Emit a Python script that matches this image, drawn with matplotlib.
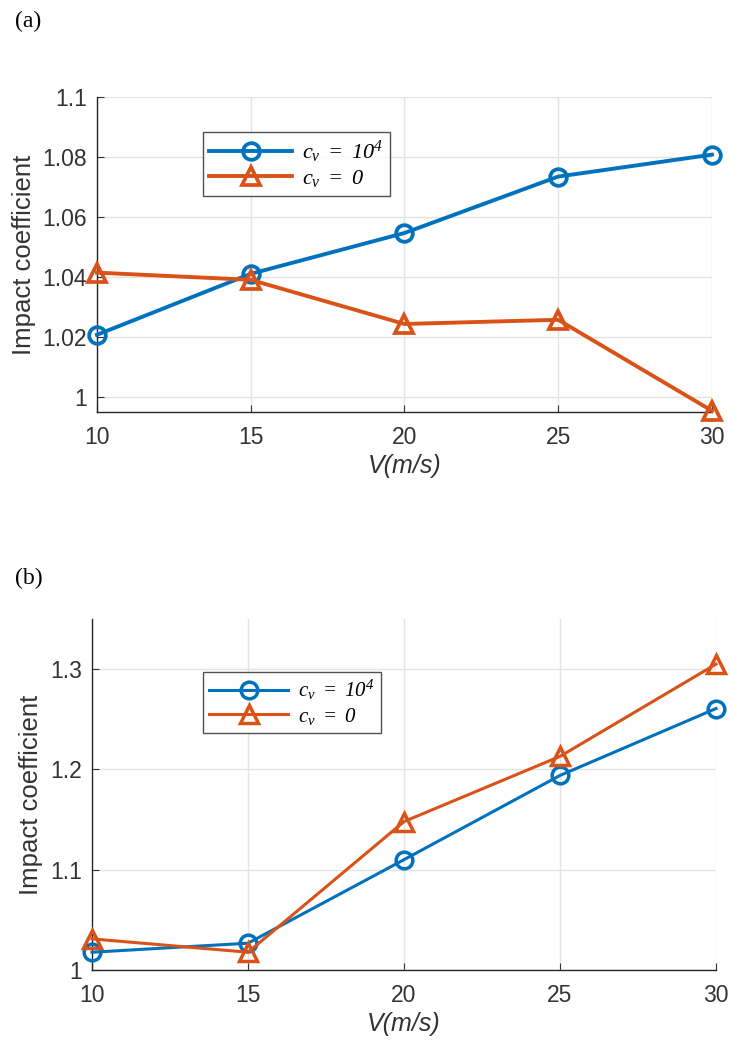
import matplotlib
matplotlib.use('Agg')
import matplotlib.pyplot as plt

plt.rcParams['mathtext.fontset'] = 'custom'
plt.rcParams['mathtext.it'] = 'Liberation Serif:italic'
plt.rcParams['mathtext.rm'] = 'Liberation Serif:italic'
plt.rcParams['font.family'] = ['Liberation Sans', 'DejaVu Sans']

# data
speed = [10, 15, 20, 25, 30]
a_cv4 = [1.0208, 1.0411, 1.0547, 1.0735, 1.0808]
a_cv0 = [1.0415, 1.0391, 1.0244, 1.0258, 0.9955]
b_cv4 = [1.0177, 1.0267, 1.110, 1.194, 1.2607]
b_cv0 = [1.031, 1.0177, 1.148, 1.213, 1.305]

blue = '#0072BD'
orange = '#D95319'
axcol = '#262626'

lab_hi = r'$c_v\ =\ 10^{4}$'
lab_lo = r'$c_v\ =\ 0$'

fig = plt.figure(figsize=(7.29, 10.44), dpi=100)


def style_axes(ax):
    ax.spines['top'].set_visible(False)
    ax.spines['right'].set_visible(False)
    for s in ['left', 'bottom']:
        ax.spines[s].set_color(axcol)
        ax.spines[s].set_linewidth(1.0)
    ax.tick_params(direction='in', length=5, colors='#333333', labelsize=16.5, pad=7)
    ax.tick_params(axis='x', pad=10)
    ax.grid(True, color='#e3e3e3', linewidth=1.0)
    ax.set_axisbelow(True)
    ax.set_xlim(10, 30)
    ax.set_xticks(speed)
    ax.set_xlabel('V(m/s)', fontsize=18, style='italic', color='#333333', labelpad=4)
    ax.set_ylabel('Impact coefficient', fontsize=18.5, color='#333333', labelpad=5)


# (a)
ax1 = fig.add_axes([0.133, 0.6054, 0.8436, 0.3017])
ax1.plot(speed, a_cv4, '-o', color=blue, lw=2.8, ms=12, mew=2.7,
         mfc='none', label=lab_hi, clip_on=False, zorder=3)
ax1.plot(speed, a_cv0, '-^', color=orange, lw=2.8, ms=13, mew=2.7,
         mfc='none', label=lab_lo, clip_on=False, zorder=3)
ax1.set_ylim(0.9951, 1.1)
ax1.set_yticks([1.0, 1.02, 1.04, 1.06, 1.08, 1.1])
ax1.set_yticklabels(['1', '1.02', '1.04', '1.06', '1.08', '1.1'])
style_axes(ax1)
leg = ax1.legend(loc='upper left', bbox_to_anchor=(0.172, 0.889), borderaxespad=0,
                 fontsize=16, frameon=True, fancybox=False, handlelength=3.7,
                 borderpad=0.3, labelspacing=0.15, handletextpad=0.45)
leg.get_frame().set_edgecolor(axcol)
leg.get_frame().set_linewidth(1.0)
fig.text(0.02, 0.979, '(a)', fontsize=17, family='Liberation Serif', va='center')

# (b)
ax2 = fig.add_axes([0.1262, 0.0709, 0.856, 0.3362])
ax2.plot(speed, b_cv4, '-o', color=blue, lw=2.2, ms=12, mew=2.5,
         mfc='none', label=lab_hi, clip_on=False, zorder=3)
ax2.plot(speed, b_cv0, '-^', color=orange, lw=2.2, ms=13, mew=2.5,
         mfc='none', label=lab_lo, clip_on=False, zorder=3)
ax2.set_ylim(1.0, 1.35)
ax2.set_yticks([1.0, 1.1, 1.2, 1.3])
ax2.set_yticklabels(['1', '1.1', '1.2', '1.3'])
style_axes(ax2)
leg = ax2.legend(loc='upper left', bbox_to_anchor=(0.178, 0.849), borderaxespad=0,
                 fontsize=15, frameon=True, fancybox=False, handlelength=3.8,
                 borderpad=0.3, labelspacing=0.15, handletextpad=0.45)
leg.get_frame().set_edgecolor(axcol)
leg.get_frame().set_linewidth(1.0)
fig.text(0.02, 0.4464, '(b)', fontsize=17, family='Liberation Serif', va='center')

fig.savefig('out.png', dpi=100, facecolor='white')
